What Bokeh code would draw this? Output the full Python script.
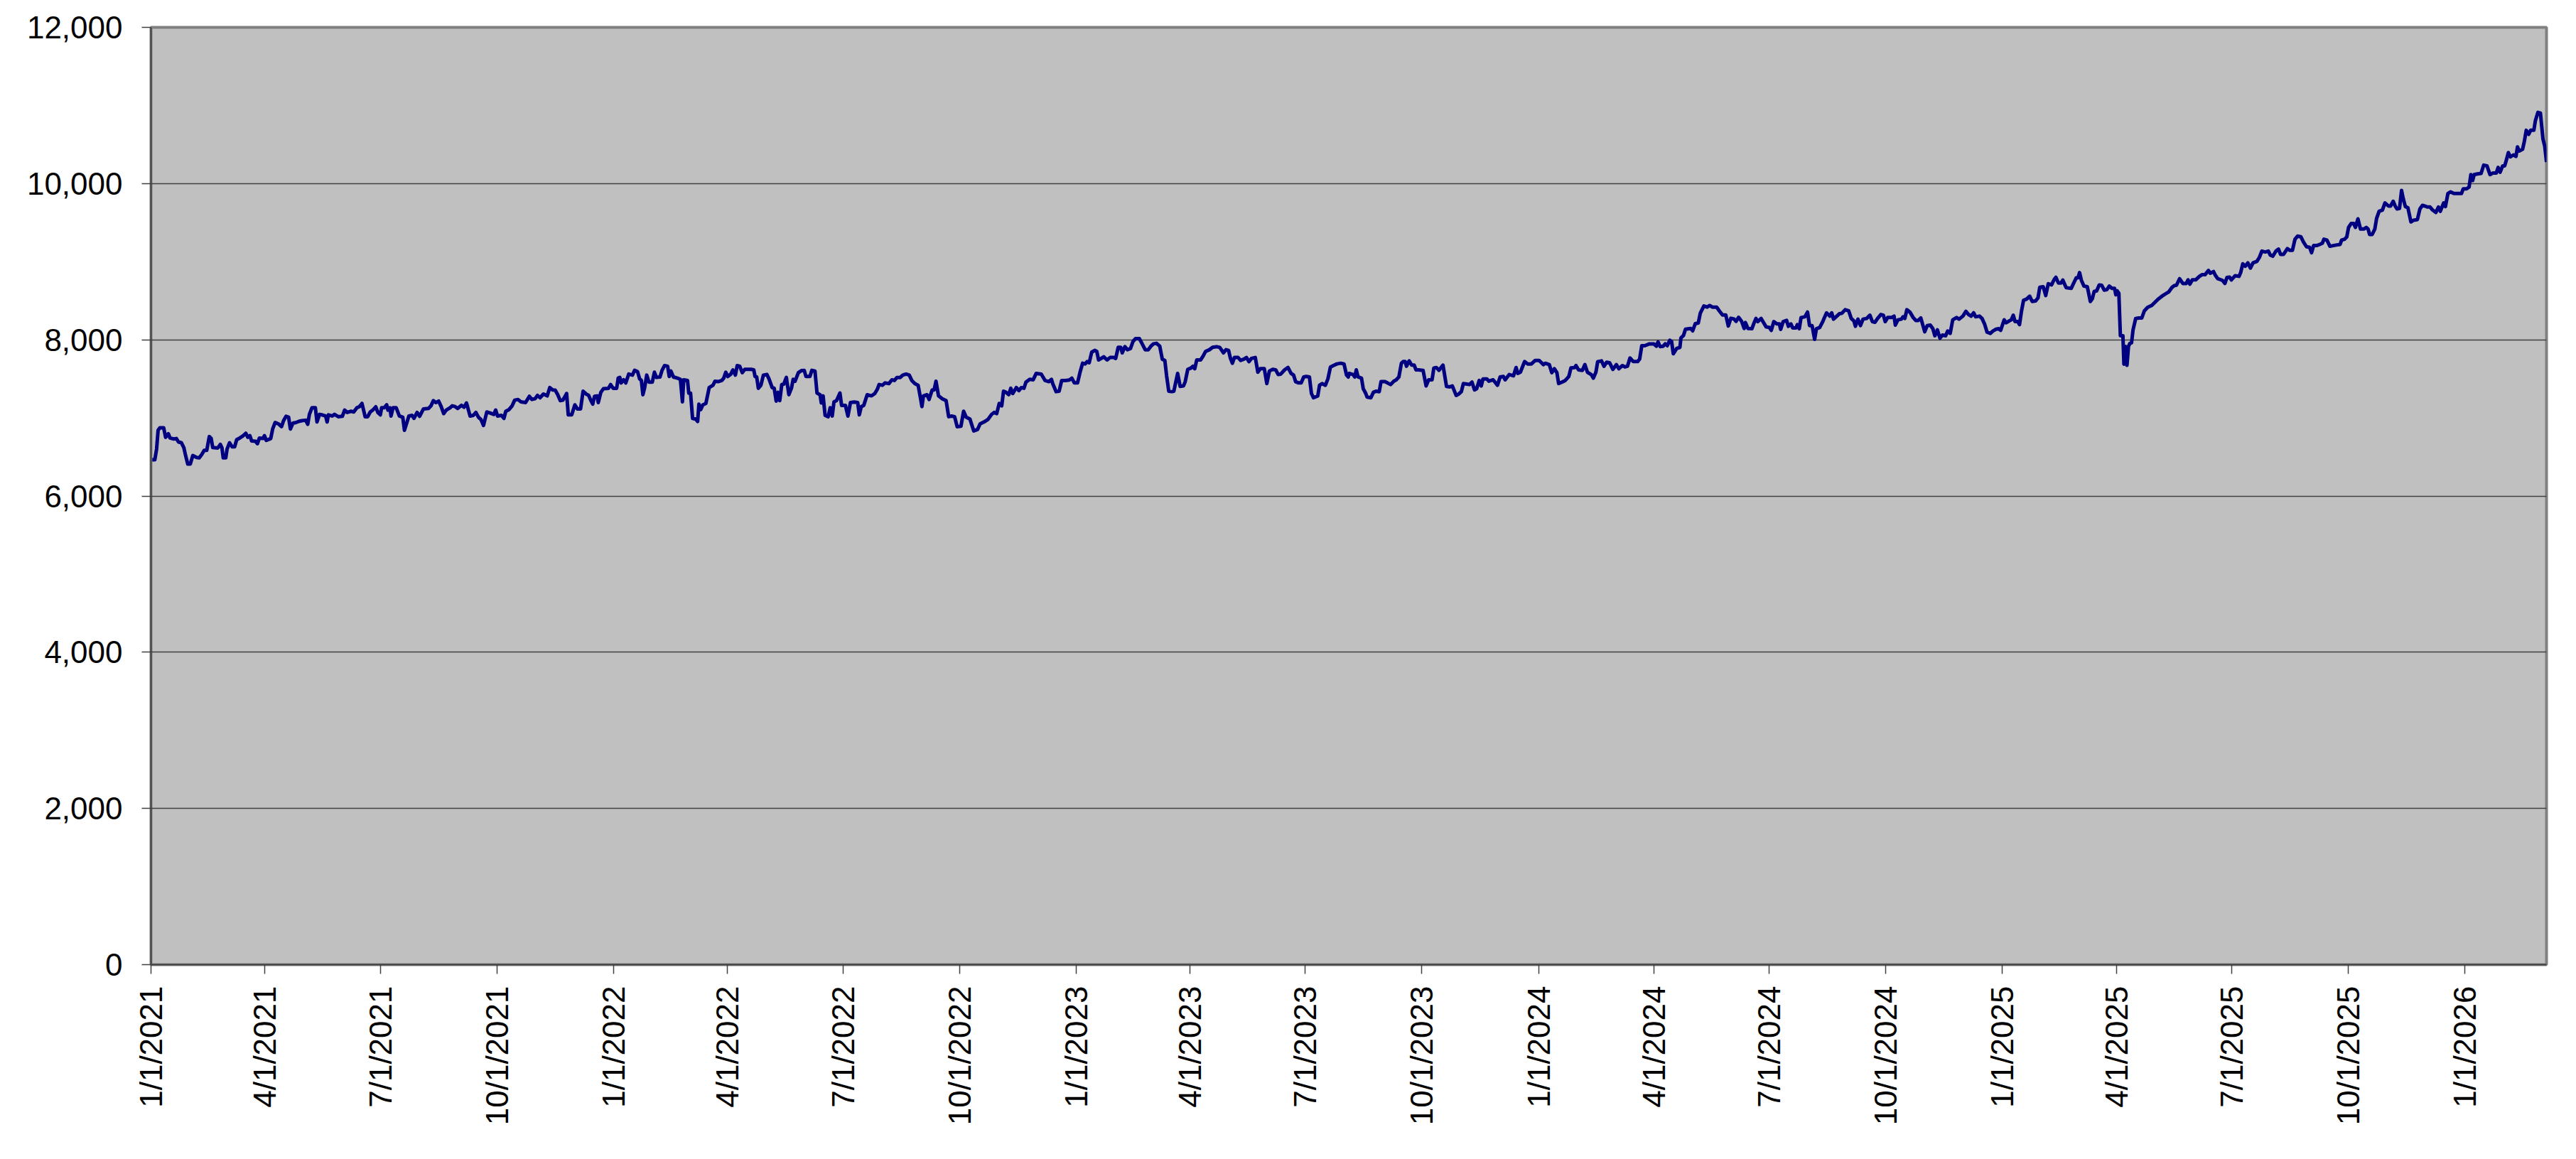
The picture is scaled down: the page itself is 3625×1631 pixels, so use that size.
import numpy as np
import pandas as pd
from bokeh.plotting import figure
from bokeh.models import (FixedTicker, CustomJSTickFormatter, NumeralTickFormatter,
                          Range1d, ColumnDataSource)
from bokeh.embed import file_html
from bokeh.resources import INLINE

# ---------------- data ----------------
start_date = "2021-01-01"

# days since 1/1/2021 and index level
day_offset = [
    1, 3, 4.4, 5.6, 7, 10, 11.5, 13.7, 15, 18, 20, 21.7, 24, 26, 27, 29, 31, 33, 36, 38, 40, 42, 44, 46, 47.5,
    48.7, 52.7, 54.7, 56, 57, 59, 60, 62, 64, 66, 67.6, 70, 72.4, 74.8, 76.4, 78, 79.4, 82.5, 84, 85.5, 88.5,
    89.5, 91, 94.5, 96, 98, 100.5, 103, 104.6, 106.6, 108.6, 110, 112, 114.6, 116.6, 119, 122, 123.7, 125, 127,
    129.7, 131, 133, 135, 137.8, 139, 140, 143, 144.8, 147.8, 151, 152.8, 154.8, 157.9, 160, 162.5, 164.5,
    166.5, 169, 171, 173, 175, 177.4, 179, 181, 182, 184, 186, 187, 188.6, 189.4, 191, 193.5, 196, 198.7, 200,
    201.5, 203.5, 206, 207.5, 210, 212, 215, 219, 221, 222.8, 224.8, 227, 229, 231, 233, 236, 237.7, 240, 242,
    245, 247, 249, 251.8, 254.4, 256.4, 258.4, 260.4, 262.4, 265, 267.5, 270.5, 272, 273.5, 276.5, 278.5, 280,
    282.5, 285, 287, 289.6, 292, 295.6, 298.6, 300.6, 303, 305, 307, 309.7, 312.7, 314.7,
    317, 319, 321, 323, 325, 327, 328, 329.3, 332, 333.3, 334.5, 336.5, 339, 341, 343.4, 345.4, 347, 348.6,
    350, 352, 353, 355, 357, 361, 362.7, 364.7, 367.5, 368.7, 370, 371, 373, 374.7, 377, 380, 381.6, 384,
    385.6, 387, 388.2, 389.6, 391.2, 393, 395.6, 397.3, 398.9, 401.7, 403.3, 405.3, 407.7, 409, 410.3, 412.3,
    415.4, 417.8, 419.4, 420.4, 423.4, 424.4, 425.8, 427.4, 429.8, 431.4, 432.4, 433.8, 435.5, 437.9, 440.5,
    443.5, 445.1, 447.5, 450.5, 452, 453.6, 455.2, 457.6, 459.2, 461.2, 462.6, 464.6, 466.6, 468.6, 473.7,
    475.7, 476.7, 478, 479.3, 481.3, 483.3, 486.1, 487.7, 490.2, 491.8, 493.4, 494.8, 496.2, 497.8, 499.4,
    501.4, 503.4, 505.4, 506.8, 508.3, 510.9, 513.5, 515.5, 516.9, 520, 521.5, 524, 525.6, 528, 529, 530.4,
    532, 534.4, 536, 537.6, 539, 541, 543.7, 545, 548, 550, 552, 555, 557.7, 559, 560.5, 562.5, 565.2, 568.6,
    571.2, 573.2, 574.6, 577.2, 579.3, 582.3, 584.7, 586.7, 588.7, 591.3, 593.3, 596, 598.4, 600.4, 602.8,
    605.4, 606.8, 608.4, 609.6, 612.4, 614, 616.5, 618, 619.5, 621.5, 624.5, 627.5, 629.5,
    631.8, 634.2, 636.2, 639.2, 641.3, 643.3, 646.3, 649.3, 652.3, 654.3, 657.4, 660.4, 663.4, 665.4, 667.4,
    669.4, 671.4, 672.8, 674.8, 676.9, 678.5, 680.1, 682.9, 684.9, 686.9, 688.9, 690.5, 693.5, 696.2, 698.6,
    702.6, 705.6, 708.6, 710.6, 711.6, 714.3, 716.7, 718.7, 721.7, 724.7, 726.7, 728.7, 731.2, 733.2, 735.2,
    737.2, 738.8, 740.4, 742.4, 744.8, 746.4, 747.8, 749.9, 751.9, 754.5, 756.9, 759.9, 761.3, 763.3, 765.3,
    766.5, 768.6, 770.6, 773, 775, 777, 780, 782, 784.6, 787.1, 789.1, 791.1, 793.5, 796.1, 798.1, 800.1,
    801.5, 803.2, 805.6, 807.2, 810.2, 812.2, 814.8, 816.2, 818.2, 820.8, 822.2, 823.7, 825.3, 828.3, 830.3,
    832.3, 835.3, 837.8, 841, 843.4, 846.4, 848.4, 850.4, 851.8, 853.4, 855, 857.9, 859.9, 862.5, 864.5,
    866.5, 868.5, 871.5, 873.5, 875.5, 878.6, 880.6, 882.6, 885.2, 887.6, 889.6, 891.6, 894.6, 897.3, 899.7,
    901.7, 903.3, 905.7, 907.7, 909.7, 911.7, 914.2, 915.8, 917.4, 920.8, 922.2, 924.2, 926.8, 928.8, 930.8,
    933.9, 935.9, 938.9, 941.5, 943.5, 944.9,
    945.6, 948.6, 950, 951.2, 952.6, 955.3, 956.7, 958.7, 959.7, 962.7, 964.7, 966.7, 969.3, 970.7, 973.8,
    975.8, 978.2, 980.8, 982.8, 984.8, 986.8, 988.2, 989.8, 990.8, 992.9, 994.9, 996.9, 998.3, 1000.3, 1003.9,
    1006.3, 1008.3, 1011, 1012.4, 1014.4, 1016.4, 1019.6, 1022.4, 1025, 1027, 1030, 1032.1, 1034.1, 1035.7,
    1038.5, 1040.5, 1042.5, 1044.5, 1046.2, 1048.2, 1049.8, 1051.2, 1054.2, 1055.8, 1059.2, 1062.6, 1064.7,
    1067.3, 1068.7, 1071.9, 1075.3, 1077.3, 1078.7, 1080.7, 1084, 1086.4, 1089.4, 1092.4, 1095.4, 1097.4,
    1098.8, 1100.4, 1103.5, 1105.5, 1107.5, 1109.5, 1110.9, 1113.5, 1116.1, 1118.9, 1120.6, 1123.6, 1124.6,
    1126.6, 1129.6, 1131.6, 1133.6, 1136.6, 1138.3, 1140.3, 1141.7, 1144.7, 1146.7, 1148.7, 1151.1, 1153.7,
    1156.4, 1158.4, 1161.2, 1163.2, 1165.2, 1167.2, 1169.8, 1173.2, 1174.8, 1176.5, 1178.9, 1182.5, 1186,
    1188, 1189.3, 1191, 1193.4, 1195, 1196.6, 1198.6, 1200, 1201.4, 1204, 1206.6, 1207.4, 1209.4, 1211,
    1215.1, 1216.7, 1218.7, 1221.1, 1222.7, 1225.5, 1228.1, 1230.1, 1232.2, 1235.6, 1237.6, 1240.2, 1242.8,
    1244.8, 1246.8, 1249.3, 1250.9, 1252.9, 1255.3, 1257.3, 1258.3, 1260.3,
    1263.4, 1265, 1266.6, 1268, 1270.7, 1272.7, 1274.7, 1277.1, 1278.7, 1280.7, 1283.1, 1285.1, 1286.1,
    1288.1, 1290.8, 1292.2, 1294.2, 1295.6, 1298.2, 1299.2, 1300.8, 1302.2, 1305.2, 1307.3, 1308.9, 1310.9,
    1312.9, 1314.3, 1316.9, 1319.3, 1322.3, 1325, 1326.4, 1327.8, 1330.4, 1332.4, 1334.4, 1337, 1339.8,
    1341.8, 1343.9, 1345.1, 1347.1, 1349.1, 1351.1, 1353.9, 1356.5, 1358.5, 1360.5, 1362.6, 1365.2, 1367.2,
    1368.6, 1370.6, 1373.6, 1375.6, 1376.6, 1378.6, 1381.3, 1382.7, 1384.1, 1385.7, 1388.1, 1390.7, 1392.7,
    1394.7, 1396.7, 1398.2, 1399.8, 1401.8, 1404.2, 1406.2, 1407.8, 1409.8, 1411.8, 1413.8, 1416.3, 1417.9,
    1419.9, 1421.9, 1424.9, 1426.9, 1429.9, 1432.3, 1434.4, 1436.4, 1438.4, 1440, 1443, 1445, 1447, 1449,
    1451.6, 1453.6, 1455.7, 1458.1, 1459.7, 1461.1, 1462.5, 1464.1, 1466.5, 1468.1, 1469.7, 1471.1, 1473.2,
    1474.6, 1476.2, 1477.8, 1480.2, 1482.6, 1484.6, 1487.2, 1489.2, 1490.6, 1493.3, 1495.3, 1497.3, 1499.9,
    1501.9, 1503.3, 1505.3, 1507.3, 1508.8, 1511.4, 1515.4, 1517.4, 1519.4, 1520.8, 1522, 1523.4, 1525.4,
    1528.1, 1530.5, 1532.1, 1533.5, 1535.5, 1537.5, 1539.5, 1541.5, 1543.5, 1545.5, 1547.6, 1549.6, 1550.6,
    1551.6, 1553, 1554.2, 1556.2, 1557, 1558.2, 1559.4, 1560.6, 1561.6, 1563, 1564.2, 1566.3, 1568.7, 1571.1,
    1573.1, 1575.7, 1579, 1584, 1588,
    1592.5, 1594.9, 1596.5, 1598.5, 1600.9, 1603.5, 1606.2, 1607.6, 1609, 1611, 1613.6, 1616.6, 1618.6, 1621,
    1623.7, 1625.1, 1627.7, 1629.1, 1631.1, 1634.7, 1636.7, 1638.3, 1640.3, 1641.8, 1644.8, 1647.8, 1649.2,
    1650.8, 1652.8, 1654.8, 1656.8, 1658.9, 1661.9, 1663.9, 1665.9, 1668.5, 1671, 1672.5, 1674.5, 1677, 1679,
    1680.6, 1683, 1686, 1688, 1690, 1692, 1694, 1696.7, 1698.7, 1701.1, 1703.5, 1705.1, 1706.7, 1709.1,
    1711.5, 1713.6, 1714.8, 1717.2, 1719.6, 1722.2, 1725.2, 1727.6, 1728.8, 1731.2, 1732.9, 1734.3, 1736.3,
    1738.3, 1739.7, 1741.7, 1743.7, 1746.3, 1748.3, 1749.7, 1750.9, 1752.9, 1755, 1756.4, 1758.4, 1761, 1763,
    1765.8, 1767.4, 1769.5, 1771.1, 1772.5, 1774.5, 1776.1, 1777.5, 1779.1, 1781.1, 1783.5, 1785.5, 1788.6,
    1790.6, 1792.6, 1794.6, 1796.6, 1798.6, 1800.6, 1803.2, 1805.2, 1806.7, 1809.3, 1810.7, 1812.7, 1814.7,
    1817.4, 1820.8, 1823.4, 1824.8, 1827.4, 1829.4, 1830.8, 1832.2, 1833.4, 1835.9, 1838.9, 1840.9, 1843.5,
    1845.9, 1848.3, 1850.9, 1852.3, 1853.9, 1855.9, 1857.5, 1858.9, 1860.4, 1862, 1864.4, 1866.4, 1867.6,
    1869, 1871.6, 1873, 1874.5, 1876.4, 1878, 1880.5, 1881.7, 1883.7, 1885.7, 1887.7, 1889.1, 1890.5,
]

index_value = [
    6464, 6464, 6600, 6842, 6873, 6873, 6752, 6797, 6742, 6730, 6736, 6691, 6682, 6615, 6539, 6409, 6409, 6518,
    6494, 6488, 6530, 6585, 6585, 6761, 6736, 6621, 6615, 6661, 6615, 6488, 6488, 6600, 6682, 6630, 6630, 6721,
    6742, 6767, 6803, 6752, 6773, 6706, 6700, 6670, 6742, 6736, 6773, 6712, 6736, 6858, 6942, 6924, 6888, 6964,
    7021, 7009, 6858, 6933, 6942, 6955, 6964, 6970, 6918, 7045, 7130, 7130, 6948, 7045, 7039, 7024, 6948, 7039,
    7024, 7045, 7015, 7021, 7100, 7070, 7085, 7076, 7130, 7145, 7185, 7015, 7015, 7076, 7100, 7142, 7070, 7039,
    7130, 7130, 7167, 7100, 7130, 7024, 7130, 7130, 7024, 7009, 6842, 6918, 7024, 7033, 6994, 7070, 7021, 7115,
    7121, 7155, 7221, 7197, 7215, 7145, 7055, 7100, 7130, 7155, 7145, 7121, 7161, 7136, 7191, 7024, 7033, 7070,
    7009, 6979, 6903, 7076, 7064, 7045, 7100, 7024, 7033, 6994, 7085, 7106, 7155, 7227, 7236, 7206, 7197, 7276,
    7236, 7245, 7288, 7258, 7306, 7282, 7388,
    7358, 7355, 7297, 7221, 7227, 7282, 7312, 7039, 7039, 7106, 7167, 7115, 7115, 7342, 7306, 7288, 7227, 7176,
    7276, 7282, 7197, 7327, 7373, 7379, 7427, 7379, 7379, 7509, 7518, 7448, 7488, 7448, 7561, 7548, 7609, 7591,
    7500, 7479, 7297, 7388, 7548, 7458, 7458, 7585, 7518, 7524, 7609, 7670, 7661, 7530, 7600, 7524, 7509, 7494,
    7206, 7488, 7479, 7318, 7318, 6994, 6985, 6955, 7176, 7106, 7167, 7185, 7388, 7418, 7470, 7464, 7479, 7509,
    7585, 7530, 7561, 7615, 7548, 7670, 7661, 7579, 7621, 7621, 7615, 7530, 7524, 7379, 7418, 7548, 7555, 7500,
    7388, 7379, 7215, 7327, 7221, 7427, 7433, 7518, 7297, 7379, 7494, 7470, 7579, 7606, 7609, 7530, 7530, 7609,
    7600, 7318, 7297, 7191, 7282, 7033, 7015, 7130, 7024, 7206, 7221, 7318, 7161, 7161, 7024, 7197, 7203, 7197,
    7039, 7145, 7161, 7297, 7282, 7312, 7367, 7427, 7418, 7448, 7439, 7488, 7479, 7518, 7518, 7548, 7561, 7548,
    7479, 7439, 7418, 7297, 7145, 7282, 7297, 7236, 7358, 7358, 7470, 7282, 7245, 7221, 7015,
    7024, 7015, 6888, 6894, 7085, 7009, 6985, 6833, 6852, 6924, 6948, 6979, 7045, 7070, 7055, 7185, 7155, 7342,
    7327, 7297, 7379, 7312, 7388, 7349, 7388, 7379, 7458, 7494, 7488, 7570, 7561, 7479, 7464, 7494, 7439, 7336,
    7342, 7479, 7479, 7485, 7509, 7448, 7448, 7585, 7700, 7691, 7721, 7706, 7842, 7864, 7852, 7742, 7761, 7782,
    7742, 7773, 7773, 7761, 7903, 7903, 7833, 7912, 7873, 7888, 7979, 8015, 8015, 7955, 7873, 7873, 7918, 7948,
    7955, 7918, 7752, 7736, 7539, 7342, 7336, 7342, 7570, 7403, 7409, 7464, 7621, 7639, 7661, 7630, 7742, 7742,
    7791, 7852, 7873, 7903, 7912, 7903, 7833, 7873, 7864, 7767, 7700, 7773, 7773, 7736, 7752, 7773, 7721, 7761,
    7773, 7585, 7630, 7630, 7439, 7600, 7621, 7615, 7555, 7561, 7615, 7645, 7570, 7548, 7464, 7448, 7448, 7524,
    7530, 7524, 7312, 7258, 7282, 7418, 7439, 7418, 7500, 7652, 7676, 7691, 7700, 7691, 7548, 7524,
    7570, 7555, 7524, 7615, 7524, 7509, 7373, 7312, 7267, 7258, 7327, 7342, 7336, 7464, 7464, 7448, 7427, 7470,
    7488, 7524, 7700, 7721, 7721, 7661, 7730, 7676, 7676, 7615, 7615, 7609, 7409, 7488, 7488, 7639, 7645, 7609,
    7676, 7403, 7397, 7409, 7288, 7306, 7336, 7439, 7433, 7427, 7458, 7358, 7373, 7479, 7409, 7500, 7500, 7470,
    7488, 7418, 7524, 7530, 7488, 7555, 7539, 7645, 7570, 7585, 7721, 7691, 7691, 7736, 7736, 7706, 7682, 7700,
    7682, 7579, 7630, 7579, 7439, 7458, 7479, 7530, 7639, 7645, 7670, 7615, 7609, 7682, 7585, 7555, 7509, 7585,
    7721, 7730, 7661, 7712, 7706, 7621, 7682, 7630, 7670, 7652, 7661, 7767, 7721, 7721, 7752, 7924, 7924, 7948,
    7948, 7918, 7973, 7912, 7918, 7948, 7924, 7994, 7979, 7821, 7888, 7903, 8024, 8055, 8136, 8145, 8115, 8206,
    8215, 8342, 8433, 8418, 8439, 8418, 8418, 8373, 8318, 8318, 8176, 8276, 8267, 8236, 8288, 8236, 8145, 8221,
    8145,
    8142, 8212, 8273, 8233, 8273, 8218, 8164, 8158, 8121, 8233, 8203, 8203, 8133, 8233, 8248, 8173, 8203, 8152,
    8152, 8194, 8142, 8285, 8294, 8355, 8182, 8182, 8006, 8142, 8158, 8233, 8345, 8303, 8345, 8264, 8303, 8333,
    8339, 8385, 8370, 8273, 8242, 8173, 8264, 8182, 8264, 8273, 8315, 8233, 8224, 8273, 8324, 8315, 8233, 8285,
    8285, 8303, 8188, 8255, 8264, 8294, 8273, 8385, 8355, 8285, 8248, 8248, 8279, 8194, 8103, 8182, 8188, 8142,
    8052, 8127, 8021, 8061, 8052, 8112, 8082, 8255, 8285, 8264, 8303, 8364, 8324, 8303, 8345, 8294, 8303, 8273,
    8203, 8097, 8082, 8112, 8133, 8142, 8121, 8188, 8255, 8218, 8242, 8255, 8315, 8233, 8233, 8194, 8370, 8506,
    8521, 8558, 8491, 8497, 8536, 8673, 8679, 8567, 8718, 8703, 8770, 8800, 8727, 8727, 8764, 8667, 8658, 8727,
    8794, 8794, 8861, 8764, 8688, 8679, 8491, 8527, 8618, 8627, 8703, 8697, 8636, 8642, 8688, 8658, 8658, 8576,
    8627, 8597, 8052, 8052, 7688, 7915, 7673, 7915, 7952, 7961, 8127, 8273, 8279, 8279, 8370, 8415, 8440, 8520,
    8570,
    8615, 8670, 8691, 8700, 8782, 8721, 8721, 8767, 8712, 8767, 8767, 8812, 8833, 8833, 8888, 8852, 8873, 8827,
    8782, 8761, 8721, 8797, 8803, 8767, 8821, 8812, 8864, 8973, 8942, 8985, 8918, 8985, 9003, 9055, 9136, 9124,
    9136, 9085, 9070, 9136, 9161, 9094, 9094, 9167, 9145, 9145, 9288, 9327, 9318, 9252, 9191, 9185, 9115, 9206,
    9206, 9221, 9236, 9288, 9276, 9197, 9206, 9215, 9221, 9276, 9288, 9318, 9439, 9488, 9488, 9439, 9548, 9418,
    9418, 9439, 9418, 9348, 9348, 9418, 9554, 9645, 9661, 9752, 9712, 9712, 9773, 9712, 9676, 9682, 9912, 9803,
    9706, 9691, 9509, 9530, 9539, 9676, 9721, 9712, 9700, 9700, 9661, 9630, 9700, 9645, 9752, 9706, 9873, 9894,
    9873, 9873, 9873, 9933, 9933, 9955, 10115, 10039, 10115, 10124, 10130, 10236, 10227, 10115, 10136, 10136,
    10206, 10145, 10227, 10227, 10306, 10397, 10342, 10367, 10348, 10470, 10418, 10439, 10539, 10682, 10630,
    10682, 10682, 10803, 10912, 10903, 10570, 10479, 10276,
]

x_tick_labels = [
    "1/1/2021", "4/1/2021", "7/1/2021", "10/1/2021",
    "1/1/2022", "4/1/2022", "7/1/2022", "10/1/2022",
    "1/1/2023", "4/1/2023", "7/1/2023", "10/1/2023",
    "1/1/2024", "4/1/2024", "7/1/2024", "10/1/2024",
    "1/1/2025", "4/1/2025", "7/1/2025", "10/1/2025",
    "1/1/2026",
]
y_ticks = [0, 2000, 4000, 6000, 8000, 10000, 12000]

# ---------------- build ----------------
n = min(len(day_offset), len(index_value))
t0 = pd.Timestamp(start_date)
dates = t0 + pd.to_timedelta(np.array(day_offset[:n], dtype=float), unit="D")
src = ColumnDataSource(dict(date=dates, value=index_value[:n]))

tick_dates = pd.to_datetime(x_tick_labels, format="%m/%d/%Y")
tick_ms = [float(d.value // 10**6) for d in tick_dates]

x_start = t0.to_pydatetime()
x_end = dates.max().to_pydatetime()

p = figure(width=3605, height=1587, x_axis_type="datetime",
           output_backend="svg", toolbar_location=None,
           x_range=Range1d(x_start, x_end), y_range=Range1d(0, 12000),
           min_border_left=212, min_border_right=22,
           min_border_top=38, min_border_bottom=230)

p.background_fill_color = "#C0C0C0"
p.border_fill_color = "white"
p.outline_line_color = "#808080"
p.outline_line_width = 4

p.line("date", "value", source=src, line_color="#000080", line_width=5,
       line_join="round")

# axes
FONT = "Liberation Sans"
for ax in (p.xaxis[0], p.yaxis[0]):
    ax.axis_line_color = "#404040"
    ax.axis_line_width = 2
    ax.major_tick_line_color = "#404040"
    ax.major_tick_line_width = 1.5
    ax.major_tick_in = 0
    ax.major_tick_out = 13
    ax.minor_tick_line_color = None
    ax.major_label_text_font = FONT
    ax.major_label_text_font_size = "44px"
    ax.major_label_text_color = "black"

p.yaxis.ticker = FixedTicker(ticks=y_ticks)
p.yaxis.formatter = NumeralTickFormatter(format="0,0")
p.yaxis.major_label_standoff = 27

p.xaxis.ticker = FixedTicker(ticks=tick_ms)
p.xaxis.formatter = CustomJSTickFormatter(code="""
    const d = new Date(tick);
    return (d.getUTCMonth() + 1) + "/" + d.getUTCDate() + "/" + d.getUTCFullYear();
""")
p.xaxis.major_label_orientation = np.pi / 2
p.xaxis.major_label_standoff = 17

p.xgrid.visible = False
p.ygrid.grid_line_color = "#404040"
p.ygrid.grid_line_width = 1.5

open("out.html", "w").write(file_html(p, INLINE))
